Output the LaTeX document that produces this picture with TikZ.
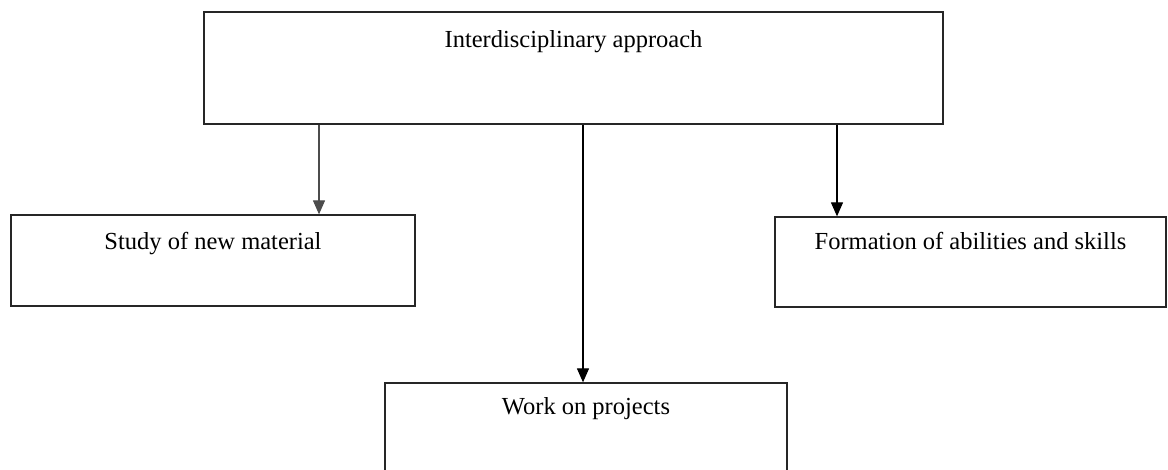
\documentclass[tikz,border=0pt]{standalone}
\usepackage{fontspec}
\setmainfont{Liberation Serif}
\usetikzlibrary{arrows.meta}
\begin{document}
\begin{tikzpicture}[x=1pt,y=-1pt,
  box/.style={draw=black!85, line width=1.3pt, rectangle, inner sep=0pt},
  lbl/.style={anchor=base, inner sep=0pt, font=\fontsize{24.5}{28}\selectfont},
  conn/.style={line width=1.2pt, -{Triangle[length=14pt,width=12pt]}}]
\useasboundingbox (0,0) rectangle (1168,469);
\fill[white] (0,0) rectangle (1168,469);
\node[box, minimum width=739, minimum height=112] (top) at (573.5,68) {};
\node[box, minimum width=404, minimum height=91] (study) at (213,260.5) {};
\node[box, minimum width=391, minimum height=90] (form) at (970.5,262) {};
\node[box, minimum width=402, minimum height=120] (work) at (586,443) {};
\node[lbl] (tt) at ([yshift=-36]top.north) {Interdisciplinary approach};
\node[lbl] (st) at ([yshift=-35]study.north) {Study of new material};
\node[lbl] (ft) at ([yshift=-33]form.north) {Formation of abilities and skills};
\node[lbl] (wt) at ([yshift=-32]work.north) {Work on projects};
\draw[conn, black!70] (top.south -| 319,0) -- (study.north -| 319,0);
\draw[conn] (top.south -| 583,0) -- (work.north -| 583,0);
\draw[conn] (top.south -| 837,0) -- (form.north -| 837,0);
\end{tikzpicture}
\end{document}
